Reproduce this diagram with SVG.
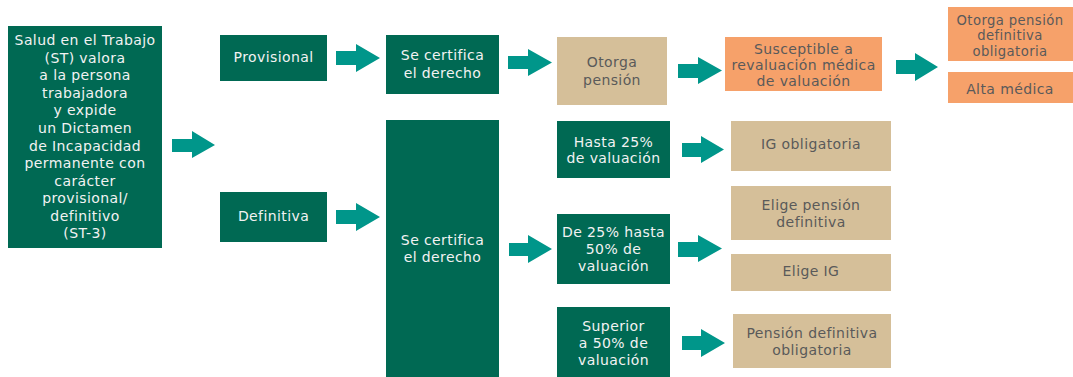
<svg xmlns="http://www.w3.org/2000/svg" width="1073" height="377" viewBox="0 0 1073 377">
<style>
text{font-family:"DejaVu Sans","Liberation Sans",sans-serif;font-size:14px;letter-spacing:0.4px;text-anchor:middle}
.g{fill:#006953}
.t{fill:#d5bf99}
.o{fill:#f6a16a}
.w{fill:#f2f2f2}
.d{fill:#5a5a5a}
.a{fill:#00968a}
.s{font-size:13.2px}
</style>
<rect width="1073" height="377" fill="#ffffff"/>
<g id="n-st">
<rect class="g" x="8" y="26" width="154" height="222"/>
<text class="w"><tspan x="85" y="45">Salud en el Trabajo</tspan><tspan x="85" y="63">(ST) valora</tspan><tspan x="85" y="80">a la persona</tspan><tspan x="85" y="98">trabajadora</tspan><tspan x="85" y="115">y expide</tspan><tspan x="85" y="133">un Dictamen</tspan><tspan x="85" y="151">de Incapacidad</tspan><tspan x="85" y="168">permanente con</tspan><tspan x="85" y="186">carácter</tspan><tspan x="85" y="203">provisional/</tspan><tspan x="85" y="221">definitivo</tspan><tspan x="85" y="238">(ST-3)</tspan></text>
</g>
<g id="n-prov">
<rect class="g" x="220" y="35" width="107" height="46"/>
<text class="w" x="273.5" y="62">Provisional</text>
</g>
<g id="n-cert1">
<rect class="g" x="386" y="35" width="113" height="59"/>
<text class="w"><tspan x="442.5" y="60">Se certifica</tspan><tspan x="442.5" y="78">el derecho</tspan></text>
</g>
<g id="n-otorga">
<rect class="t" x="557" y="37" width="110" height="68"/>
<text class="d"><tspan x="612" y="67">Otorga</tspan><tspan x="612" y="85">pensión</tspan></text>
</g>
<g id="n-suscep">
<rect class="o" x="725" y="37" width="157" height="54"/>
<text class="d"><tspan x="803.5" y="54">Susceptible a</tspan><tspan x="803.5" y="70">revaluación médica</tspan><tspan x="803.5" y="86">de valuación</tspan></text>
</g>
<g id="n-otorgadef">
<rect class="o" x="948" y="7" width="125" height="54"/>
<text class="d s"><tspan x="1010" y="25">Otorga pensión</tspan><tspan x="1010" y="40">definitiva</tspan><tspan x="1010" y="55.5">obligatoria</tspan></text>
</g>
<g id="n-alta">
<rect class="o" x="948" y="72" width="125" height="31"/>
<text class="d" x="1010" y="94">Alta médica</text>
</g>
<g id="n-def">
<rect class="g" x="220" y="192" width="107" height="50"/>
<text class="w" x="273.5" y="221">Definitiva</text>
</g>
<g id="n-cert2">
<rect class="g" x="386" y="120" width="113" height="257"/>
<text class="w"><tspan x="442.5" y="245">Se certifica</tspan><tspan x="442.5" y="262">el derecho</tspan></text>
</g>
<g id="n-hasta25">
<rect class="g" x="557" y="121" width="113" height="57"/>
<text class="w"><tspan x="613.5" y="147">Hasta 25%</tspan><tspan x="613.5" y="163">de valuación</tspan></text>
</g>
<g id="n-igobl">
<rect class="t" x="731" y="121" width="160" height="50"/>
<text class="d" x="811" y="149">IG obligatoria</text>
</g>
<g id="n-de25">
<rect class="g" x="557" y="214" width="113" height="70"/>
<text class="w"><tspan x="613.5" y="237">De 25% hasta</tspan><tspan x="613.5" y="253.5">50% de</tspan><tspan x="613.5" y="270.5">valuación</tspan></text>
</g>
<g id="n-eligepd">
<rect class="t" x="731" y="186" width="160" height="54"/>
<text class="d"><tspan x="811" y="210">Elige pensión</tspan><tspan x="811" y="227">definitiva</tspan></text>
</g>
<g id="n-eligeig">
<rect class="t" x="731" y="254" width="160" height="37"/>
<text class="d" x="811" y="276">Elige IG</text>
</g>
<g id="n-sup50">
<rect class="g" x="557" y="307" width="113" height="70"/>
<text class="w"><tspan x="613.5" y="331">Superior</tspan><tspan x="613.5" y="348">a 50% de</tspan><tspan x="613.5" y="365">valuación</tspan></text>
</g>
<g id="n-pdo">
<rect class="t" x="733" y="314" width="158" height="54"/>
<text class="d"><tspan x="812" y="338">Pensión definitiva</tspan><tspan x="812" y="355">obligatoria</tspan></text>
</g>
<g id="connectors" class="a">
<polygon points="172,139 192,139 192,131 215,145 192,158 192,152 172,152"/>
<polygon points="336,51 356,51 356,44 380,58 356,72 356,65 336,65"/>
<polygon points="508,56 528,56 528,49 552,62.5 528,76 528,69 508,69"/>
<polygon points="678,64 698,64 698,57 722,70.5 698,84 698,78 678,78"/>
<polygon points="896,60 915,60 915,53 938,67 915,81 915,74 896,74"/>
<polygon points="336,210 356,210 356,203 380,217 356,231 356,224 336,224"/>
<polygon points="509,243 528,243 528,235 552,249 528,263 528,256 509,256"/>
<polygon points="682,143 701,143 701,136 724,149.5 701,163 701,157 682,157"/>
<polygon points="678,242 698,242 698,235 722,248.5 698,262 698,257 678,257"/>
<polygon points="682,336 701,336 701,329 725,343 701,357 701,350 682,350"/>
</g>
</svg>
